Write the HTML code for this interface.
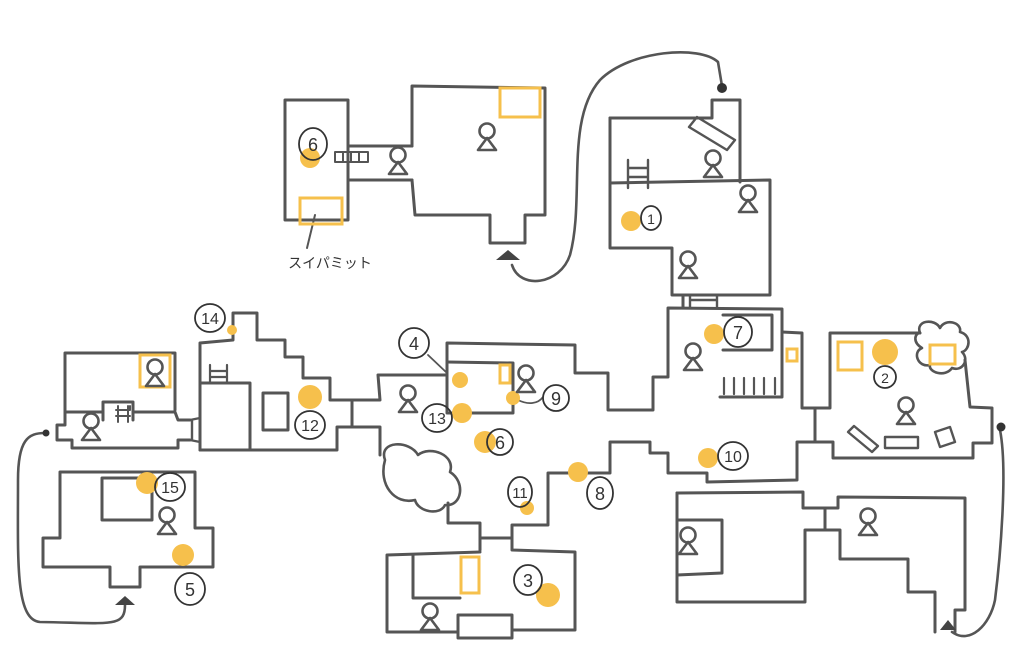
<!DOCTYPE html>
<html><head><meta charset="utf-8"><style>
html,body{margin:0;padding:0;background:#fff;width:1024px;height:672px;overflow:hidden}
svg{display:block}
text{font-family:"Liberation Sans","Noto Sans CJK JP",sans-serif;fill:#333}
</style></head><body>
<svg width="1024" height="672" viewBox="0 0 1024 672" xmlns="http://www.w3.org/2000/svg">
<defs>
<g id="p"><circle cx="0" cy="-7" r="7.5" fill="#fff" stroke="#555" stroke-width="2.6"/><path d="M0,0 L-9,12 L9,12 Z" fill="none" stroke="#555" stroke-width="2.6" stroke-linejoin="round"/></g>
</defs>
<g fill="none" stroke="#555" stroke-width="3" stroke-linejoin="round" stroke-linecap="round">
<rect x="285" y="100" width="63" height="120"/>
<path d="M348,146 L412,146 M348,180 L412,180"/>
<path d="M412,146 L412,86 L545,88 L545,215 L525,215 L525,243 L490,243 L490,215 L415,215 L412,180"/>
<path d="M315,215 L307,248" stroke-width="2"/>
<path d="M335,152 L368,152 L368,162 L335,162 Z M343,152 L343,162 M351,152 L351,162 M359,152 L359,162" stroke-width="2"/>
<path d="M512,265 C520,290 560,285 570,255 C585,200 565,120 600,80 C630,50 700,45 718,62 L722,86" stroke-width="2.6"/>
<path d="M610,118 L712,118 L712,100 L740,100 L740,182"/>
<path d="M610,118 L610,248 L672,248 L672,295 L770,295 L770,180 L610,183"/>
<path d="M628,160 L628,188 M648,160 L648,188 M628,168 L648,168 M628,177 L648,177" stroke-width="2.4"/>
<path d="M690,295 L690,308 M717,295 L717,308 M690,300 L717,300" stroke-width="2.4"/>
<path d="M689,127 L697,117 L735,140 L727,150 Z" stroke-width="2.4"/>
<path d="M65,412 L65,353 L175,353 L175,410"/>
<path d="M65,412 L103,412 M103,420 L103,402 L133,402 L133,420 M133,412 L175,412 L178,420 L190,420 M190,440 L178,440 L178,448 L72,448 L72,440 L57,440 L57,425 L65,425 L65,412"/>
<path d="M190,420 L200,418 M190,440 L200,442 M192,420 L192,440" stroke-width="2.4"/>
<path d="M200,450 L200,343 L233,340 L233,313 L257,313 L257,340 L285,340 L285,357 L303,357 L303,378 L330,378 L330,400 L352,400 L380,400 L378,375 L447,375"/>
<path d="M200,450 L337,450 L337,427 L380,427 L380,455"/>
<path d="M352,400 L352,427"/>
<path d="M200,383 L250,383 L250,450"/>
<rect x="263" y="393" width="25" height="37"/>
<path d="M210,365 L210,383 M227,365 L227,383 M210,371 L227,371 M210,377 L227,377" stroke-width="2.2"/>
<path d="M118,406 L118,422 M128,406 L128,422 M116,410 L130,410 L130,406 M116,416 L130,416" stroke-width="2"/>
<path d="M60,472 L195,472 L195,528 L213,528 L213,567 L140,567 L140,587 L110,587 L110,567 L43,567 L43,538 L60,538 Z"/>
<rect x="102" y="478" width="50" height="42"/>
<path d="M125,605 C125,628 110,623 40,622 C15,620 18,560 18,480 C18,440 28,433 45,433" stroke-width="2.6"/>
<path d="M447,375 L447,343 L575,345 L575,373 L608,373 L608,410 L653,410 L653,377 L668,377 L668,308 L782,309 L782,397 L720,397"/>
<path d="M447,362 L513,363 L513,413 L447,413 L447,375"/>
<path d="M782,332 L802,333 L802,408 L830,408 L830,333 L920,333"/>
<path d="M965,360 L970,407 L992,408 L992,443 L973,443 L973,458 L833,458 L833,442 L797,442 L797,480 L707,482 L707,473 L668,473 L668,453 L650,453 L650,442 L610,442 L610,473 L548,473 L548,525 L512,525 L512,540"/>
<path d="M815,408 L815,442"/>
<path d="M723,315 L772,315 L772,350 L723,350"/>
<path d="M724,378 L724,394 M734,378 L734,394 M744,378 L744,394 M754,378 L754,394 M764,378 L764,394 M775,378 L775,394" stroke-width="2.2"/>
<path d="M683,295 L683,308"/>
<path d="M385,460 C378,440 410,440 418,455 C430,445 456,455 450,472 C466,482 462,507 445,505 C440,516 418,512 415,500 C395,505 378,485 385,460 Z" stroke-width="2.6"/>
<path d="M448,503 L448,523 L480,523 L480,550"/>
<path d="M480,538 L512,538"/>
<path d="M920,333 C915,320 935,318 940,328 C945,318 962,322 960,332 C972,335 970,350 962,352 C970,360 962,372 952,368 C945,378 928,372 930,365 C918,368 912,352 922,348 C912,342 915,333 920,333" stroke-width="2.6"/>
<path d="M480,552 L387,555 L387,632 L458,632 M458,615 L512,615 L512,638 L458,638 L458,615 M512,630 L575,630 L575,552 L512,550 L512,540"/>
<path d="M413,555 L413,598 L460,598"/>
<path d="M677,493 L803,492 L803,508 L838,508 L838,497 L965,498 L965,610 L955,610 L955,632"/>
<path d="M935,632 L935,592 L908,592 L908,559 L840,559 L840,530 L805,530 L805,602 L677,602 L677,493"/>
<path d="M825,508 L825,530"/>
<path d="M677,520 L722,520 L722,573 L677,575"/>
<path d="M1000,430 C1008,470 1000,560 995,600 C990,625 970,645 952,632" stroke-width="2.6"/>
<path d="M848,432 L854,426 L878,446 L872,452 Z" stroke-width="2.4"/>
<rect x="885" y="437" width="33" height="11" stroke-width="2.4"/>
<path d="M935,432 L950,427 L955,442 L940,447 Z" stroke-width="2.4"/>
<path d="M428,355 L447,373" stroke-width="1.8"/>
<path d="M518,400 C528,405 538,404 543,397" stroke-width="1.8"/>
</g>
<g fill="#f6c04c">
<circle cx="310" cy="158" r="10"/><circle cx="631" cy="221" r="10"/>
<circle cx="232" cy="330" r="5"/><circle cx="310" cy="397" r="12"/>
<circle cx="147" cy="483" r="11"/><circle cx="183" cy="555" r="11"/>
<circle cx="460" cy="380" r="8"/><circle cx="462" cy="413" r="10"/><circle cx="485" cy="442" r="11"/>
<circle cx="513" cy="398" r="7"/><circle cx="527" cy="508" r="7"/><circle cx="578" cy="472" r="10"/>
<circle cx="548" cy="595" r="12"/><circle cx="708" cy="458" r="10"/><circle cx="714" cy="334" r="10"/>
<circle cx="885" cy="352" r="13"/>
</g>
<g fill="none" stroke="#f6c04c" stroke-width="3">
<rect x="300" y="198" width="42" height="26"/><rect x="500" y="88" width="40" height="29"/>
<rect x="140" y="355" width="30" height="32"/><rect x="500" y="365" width="10" height="18"/>
<rect x="461" y="557" width="18" height="36"/><rect x="787" y="349" width="10" height="12"/>
<rect x="838" y="342" width="24" height="28"/><rect x="930" y="345" width="25" height="19"/>
</g>
<use href="#p" x="398" y="162"/><use href="#p" x="487" y="138"/><use href="#p" x="713" y="165"/>
<use href="#p" x="748" y="200"/><use href="#p" x="688" y="266"/><use href="#p" x="155" y="374"/>
<use href="#p" x="91" y="428"/><use href="#p" x="167" y="522"/><use href="#p" x="408" y="400"/>
<use href="#p" x="526" y="380"/><use href="#p" x="693" y="358"/><use href="#p" x="906" y="412"/>
<use href="#p" x="430" y="618"/><use href="#p" x="688" y="542"/><use href="#p" x="868" y="523"/>
<path d="M496,260 L508,250 L520,260 Z" fill="#444"/>
<path d="M115,605 L125,596 L135,605 Z" fill="#444"/>
<path d="M940,630 L948,620 L956,630 Z" fill="#444"/>
<circle cx="722" cy="88" r="5" fill="#333"/><circle cx="46" cy="433" r="3.5" fill="#333"/><circle cx="1001" cy="427" r="4.5" fill="#333"/>
<g fill="none" stroke="#333" stroke-width="1.8">
<ellipse cx="313" cy="144" rx="14" ry="16"/><ellipse cx="651" cy="218" rx="10" ry="12"/>
<ellipse cx="210" cy="318" rx="15" ry="14"/><ellipse cx="310" cy="425" rx="15" ry="14"/>
<ellipse cx="170" cy="487" rx="15" ry="14"/><ellipse cx="190" cy="589" rx="15" ry="16"/>
<ellipse cx="414" cy="343" rx="15" ry="15"/><ellipse cx="437" cy="418" rx="15" ry="14"/>
<ellipse cx="500" cy="442" rx="13" ry="13"/><ellipse cx="556" cy="398" rx="13" ry="13"/>
<ellipse cx="520" cy="492" rx="12" ry="15"/><ellipse cx="600" cy="493" rx="13" ry="16"/>
<ellipse cx="528" cy="580" rx="14" ry="15"/><ellipse cx="733" cy="456" rx="15" ry="14"/>
<ellipse cx="738" cy="332" rx="14" ry="15"/><ellipse cx="885" cy="377" rx="11" ry="11"/>
</g>
<g font-size="18" text-anchor="middle">
<text x="313" y="151">6</text><text x="651" y="224" font-size="14">1</text>
<text x="210" y="324" font-size="16">14</text><text x="310" y="431" font-size="16">12</text>
<text x="170" y="493" font-size="16">15</text><text x="190" y="596">5</text>
<text x="414" y="350">4</text><text x="437" y="424" font-size="16">13</text>
<text x="500" y="449">6</text><text x="556" y="405">9</text>
<text x="520" y="498" font-size="15">11</text><text x="600" y="500">8</text>
<text x="528" y="587">3</text><text x="733" y="462" font-size="16">10</text>
<text x="738" y="339">7</text><text x="885" y="383" font-size="14">2</text>
<text x="330" y="268" font-size="14">スイパミット</text>
</g>
</svg>
</body></html>
